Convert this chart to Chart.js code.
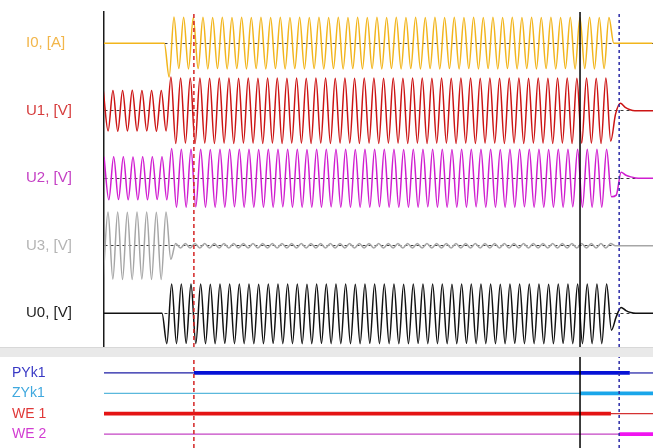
<!DOCTYPE html>
<html><head><meta charset="utf-8">
<script src="https://cdn.jsdelivr.net/npm/chart.js@4"></script>
<style>
html,body{margin:0;padding:0;background:#fff;}
#wrap{width:653px;height:448px;position:relative;overflow:hidden;background:#fff;}
#band{width:653px;height:10px;background:#e9e9e9;border-top:1px solid #d8d8d8;box-sizing:border-box;}
canvas{display:block;}
</style></head><body>
<div id="wrap">
<canvas id="top" width="653" height="347"></canvas>
<div id="band"></div>
<canvas id="bot" width="653" height="91"></canvas>
</div>
<script>
// ---------- analog channels ----------
const analogNames = ['I0, [A]', 'U1, [V]', 'U2, [V]', 'U3, [V]', 'U0, [V]'];
const analogLabelColors = ['#f2b64a', '#d63c3c', '#c43fc4', '#b4b4b4', '#1e1e1e'];
const analogLineColors = ['#f2b51c', '#cc1414', '#d01ed0', '#a6a6a6', '#111111'];
// time of first sample (ms) for each channel; samples every half-cycle (10 ms at 50 Hz)
const samplePhase = [-5.2, -1.5, 0, -1.7, 0];
const sampleStep = 10;
const timeMax = 1136;

// extremum values per half-cycle (1.0 = half a channel strip)
const I0 = [
0,0,0,0,0,0,0,0,0,0,
0,0,0,0,-1.0,0.78,-0.75,0.77,-0.76,0.76,
-0.75,0.77,-0.76,0.76,-0.75,0.77,-0.76,0.76,-0.75,0.77,
-0.76,0.76,-0.75,0.77,-0.76,0.76,-0.75,0.77,-0.76,0.76,
-0.75,0.77,-0.76,0.76,-0.75,0.77,-0.76,0.76,-0.75,0.77,
-0.76,0.76,-0.75,0.77,-0.76,0.76,-0.75,0.77,-0.76,0.76,
-0.75,0.77,-0.76,0.76,-0.75,0.77,-0.76,0.76,-0.75,0.77,
-0.76,0.76,-0.75,0.77,-0.76,0.76,-0.75,0.77,-0.76,0.76,
-0.75,0.77,-0.76,0.76,-0.75,0.77,-0.76,0.76,-0.75,0.77,
-0.76,0.76,-0.75,0.77,-0.76,0.76,-0.75,0.77,-0.76,0.76,
-0.75,0.77,-0.76,0.76,-0.75,0.76,0,0,0,0,
0,0,0,0,0
];
const U1 = [
0.6,-0.6,0.6,-0.61,0.6,-0.6,0.61,-0.6,0.6,-0.6,
0.6,-0.61,0.6,-0.6,1.0,-0.97,0.97,-0.96,0.97,-0.97,
0.97,-0.96,0.96,-0.97,0.97,-0.96,0.97,-0.97,0.96,-0.96,
0.97,-0.96,0.96,-0.97,0.97,-0.96,0.97,-0.97,0.96,-0.96,
0.97,-0.96,0.96,-0.97,0.97,-0.96,0.97,-0.97,0.96,-0.96,
0.97,-0.96,0.96,-0.97,0.97,-0.96,0.97,-0.97,0.96,-0.96,
0.97,-0.96,0.96,-0.97,0.97,-0.96,0.97,-0.97,0.96,-0.96,
0.97,-0.96,0.96,-0.97,0.97,-0.96,0.97,-0.97,0.96,-0.96,
0.97,-0.96,0.96,-0.97,0.97,-0.96,0.97,-0.97,0.96,-0.96,
0.97,-0.96,0.96,-0.97,0.97,-0.96,0.97,-0.97,0.96,-0.96,
0.97,-0.96,0.96,-0.97,0.97,-0.9,-0.1,0.22,0.1,0.03,
0,0,0,0,0
];
const U2 = [
0.64,-0.64,0.64,-0.63,0.64,-0.64,0.63,-0.64,0.64,-0.64,
0.64,-0.63,0.64,-0.64,0.88,-0.86,0.86,-0.86,0.86,-0.85,
0.86,-0.86,0.85,-0.86,0.86,-0.86,0.86,-0.85,0.86,-0.86,
0.86,-0.86,0.85,-0.86,0.86,-0.86,0.86,-0.85,0.86,-0.86,
0.86,-0.86,0.85,-0.86,0.86,-0.86,0.86,-0.85,0.86,-0.86,
0.86,-0.86,0.85,-0.86,0.86,-0.86,0.86,-0.85,0.86,-0.86,
0.86,-0.86,0.85,-0.86,0.86,-0.86,0.86,-0.85,0.86,-0.86,
0.86,-0.86,0.85,-0.86,0.86,-0.86,0.86,-0.85,0.86,-0.86,
0.86,-0.86,0.85,-0.86,0.86,-0.86,0.86,-0.85,0.86,-0.86,
0.86,-0.86,0.85,-0.86,0.86,-0.86,0.86,-0.85,0.86,-0.86,
0.86,-0.86,0.86,-0.86,0.86,-0.55,-0.5,0.18,0.09,0.04,
0.01,0,0,0,0
];
const U3 = [
-1.0,1.0,-0.99,1.0,-1.0,0.99,-1.0,1.0,-0.99,1.0,
-1.0,0.99,-1.0,1.0,-0.4,0.07,-0.07,0.07,-0.07,0.07,
-0.07,0.07,-0.07,0.07,-0.07,0.07,-0.07,0.07,-0.07,0.07,
-0.07,0.07,-0.07,0.07,-0.07,0.07,-0.07,0.07,-0.07,0.07,
-0.07,0.07,-0.07,0.07,-0.07,0.07,-0.07,0.07,-0.07,0.07,
-0.07,0.07,-0.07,0.07,-0.07,0.07,-0.07,0.07,-0.07,0.07,
-0.07,0.07,-0.07,0.07,-0.07,0.07,-0.07,0.07,-0.07,0.07,
-0.07,0.07,-0.07,0.07,-0.07,0.07,-0.07,0.07,-0.07,0.07,
-0.07,0.07,-0.07,0.07,-0.07,0.07,-0.07,0.07,-0.07,0.07,
-0.07,0.07,-0.07,0.07,-0.07,0.07,-0.07,0.07,-0.07,0.07,
-0.07,0.07,-0.07,0.07,-0.07,0.07,0,0,0,0,
0,0,0,0,0
];
const U0 = [
0,0,0,0,0,0,0,0,0,0,
0,0,0,-0.9,0.87,-0.9,0.87,-0.89,0.87,-0.9,
0.87,-0.9,0.86,-0.9,0.87,-0.89,0.87,-0.9,0.87,-0.9,
0.87,-0.9,0.86,-0.9,0.87,-0.89,0.87,-0.9,0.87,-0.9,
0.87,-0.9,0.86,-0.9,0.87,-0.89,0.87,-0.9,0.87,-0.9,
0.87,-0.9,0.86,-0.9,0.87,-0.89,0.87,-0.9,0.87,-0.9,
0.87,-0.9,0.86,-0.9,0.87,-0.89,0.87,-0.9,0.87,-0.9,
0.87,-0.9,0.86,-0.9,0.87,-0.89,0.87,-0.9,0.87,-0.9,
0.87,-0.9,0.86,-0.9,0.87,-0.89,0.87,-0.9,0.87,-0.9,
0.87,-0.9,0.86,-0.9,0.87,-0.89,0.87,-0.9,0.87,-0.9,
0.87,-0.9,0.87,-0.9,0.87,-0.5,-0.1,0.17,0.08,0.02,
0,0,0,0,0
];
const analogSeries = [I0, U1, U2, U3, U0];

// ---------- cursors (ms) ----------
const cursorTimes = [186, 985, 1066];
const cursorColors = ['#d42424', '#000000', '#2b2ba6'];
const cursorDash = [[4, 3], [], [3, 3]];

// ---------- binary channels ----------
const digitalNames = ['PYk1', 'ZYk1', 'WE 1', 'WE 2'];
const digitalLabelColors = ['#3838c4', '#3fa8de', '#e03838', '#d23cd2'];
const digitalTimes = [[0, 186, 1088, 1136], [0, 985, 1136], [0, 1049, 1136], [0, 1066, 1136]];
const digitalStates = [[0, 1, 0, 0], [0, 1, 1], [1, 0, 0], [0, 1, 1]];
const digitalThin = ['#1c1ca4', '#5ab8dc', '#d43232', '#c444c4'];
const digitalThick = ['#0612d6', '#1aa6ea', '#e41414', '#f014f0'];

const FONT = '"Liberation Sans", Arial, sans-serif';

// ---------- top (analog) chart ----------
const aBase = [4.5, 3.5, 2.5, 1.5, 0.5];
const aMax = 335 / 67.5;
const analogDatasets = analogSeries.map((vals, c) => ({
  data: vals.map((v, k) => ({ x: samplePhase[c] + k * sampleStep, y: aBase[c] + v * 0.5 })),
  borderColor: analogLineColors[c],
  borderWidth: 1.5,
  pointRadius: 0,
  cubicInterpolationMode: 'monotone',
  order: 1
}));
const cursorDatasetsTop = cursorTimes.map((t, i) => ({
  data: [{ x: t, y: 0 }, { x: t, y: aMax }],
  borderColor: cursorColors[i],
  borderDash: cursorDash[i],
  borderWidth: 1.5,
  pointRadius: 0,
  order: -1
}));

new Chart(document.getElementById('top'), {
  type: 'line',
  data: { datasets: cursorDatasetsTop.concat(analogDatasets) },
  options: {
    responsive: false, animation: false, events: [],
    layout: { padding: { left: 26, top: 12, right: 0, bottom: 0 } },
    plugins: { legend: { display: false }, tooltip: { enabled: false } },
    scales: {
      x: { type: 'linear', min: 0, max: timeMax, display: false },
      y: {
        type: 'linear', min: 0, max: aMax,
        afterBuildTicks: s => { s.ticks = aBase.map(v => ({ value: v })); },
        afterFit: s => { s.width = 78; s.paddingTop = 0; s.paddingBottom = 0; },
        ticks: {
          autoSkip: false, crossAlign: 'far', padding: 0,
          callback: (v, i) => analogNames[i],
          color: ctx => analogLabelColors[ctx.index],
          font: { family: FONT, size: 15 }
        },
        grid: { color: '#3a3a3a', lineWidth: 1, drawTicks: false, tickLength: 0 },
        border: { display: true, color: '#1a1a1a', width: 1.5, dash: [3, 3] }
      }
    }
  }
});

// ---------- bottom (binary) chart ----------
const dBase = [3.5, 2.5, 1.5, 0.5];
const dMin = -0.186, dMax = 4.284;
const digitalDatasets = digitalTimes.map((times, c) => ({
  data: times.map(t => ({ x: t, y: dBase[c] })),
  borderColor: digitalThin[c],
  borderWidth: 1,
  borderCapStyle: 'butt',
  pointRadius: 0,
  order: 1,
  segment: {
    borderWidth: ctx => digitalStates[c][ctx.p0DataIndex] ? 3.8 : 1.2,
    borderColor: ctx => digitalStates[c][ctx.p0DataIndex] ? digitalThick[c] : digitalThin[c]
  }
}));
const cursorDatasetsBot = cursorTimes.map((t, i) => ({
  data: [{ x: t, y: dMin }, { x: t, y: dMax }],
  borderColor: cursorColors[i],
  borderDash: cursorDash[i],
  borderWidth: 1.5,
  pointRadius: 0,
  order: -1
}));

new Chart(document.getElementById('bot'), {
  type: 'line',
  data: { datasets: cursorDatasetsBot.concat(digitalDatasets) },
  options: {
    responsive: false, animation: false, events: [],
    layout: { padding: { left: 12, top: 0, right: 0, bottom: 0 } },
    plugins: { legend: { display: false }, tooltip: { enabled: false } },
    scales: {
      x: { type: 'linear', min: 0, max: timeMax, display: false },
      y: {
        type: 'linear', min: dMin, max: dMax,
        afterBuildTicks: s => { s.ticks = dBase.map(v => ({ value: v })); },
        afterFit: s => { s.width = 92; s.paddingTop = 0; s.paddingBottom = 0; },
        ticks: {
          autoSkip: false, crossAlign: 'far', padding: 0,
          callback: (v, i) => digitalNames[i],
          color: ctx => digitalLabelColors[ctx.index],
          font: { family: FONT, size: 14 }
        },
        grid: { display: false, drawTicks: false },
        border: { display: false }
      }
    }
  }
});
</script>
</body></html>
